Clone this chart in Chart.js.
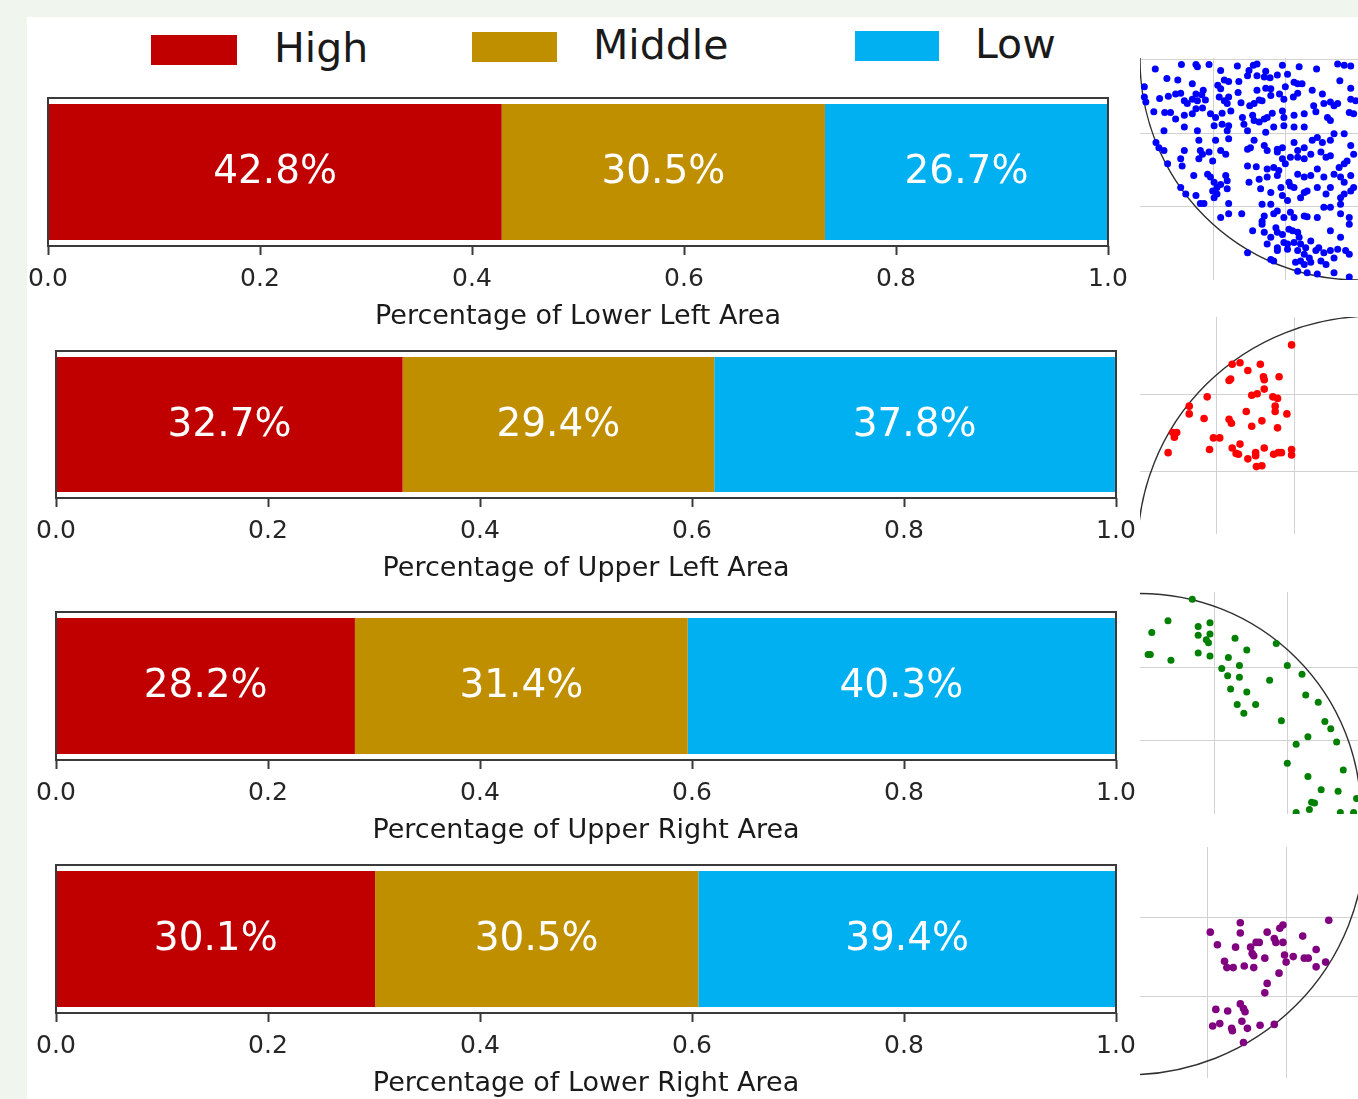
<!DOCTYPE html>
<html>
<head>
<meta charset="utf-8">
<script src="https://cdn.jsdelivr.net/npm/chart.js@4.4.1/dist/chart.umd.min.js"></script>
<style>
  html, body { margin: 0; padding: 0; }
  body { width: 1358px; height: 1099px; background: #f0f6ee; position: relative; overflow: hidden; font-family: "DejaVu Sans", sans-serif; }
  #panel { position: absolute; left: 27px; top: 17px; width: 1331px; height: 1082px; background: #ffffff; }
  canvas { position: absolute; }
  .key { position: absolute; height: 30px; }
  .keytext { position: absolute; font-size: 41px; line-height: 41px; color: #1a1a1a; white-space: nowrap; }
</style>
</head>
<body>
<div id="panel"></div>
<div id="legend"></div>
<canvas id="bar0" width="1160" height="243" style="left:0;top:90px"></canvas>
<canvas id="bar1" width="1160" height="242" style="left:0;top:343px"></canvas>
<canvas id="bar2" width="1160" height="243" style="left:0;top:604px"></canvas>
<canvas id="bar3" width="1160" height="243" style="left:0;top:857px"></canvas>
<canvas id="disc0" width="218" height="222" style="left:1140px;top:58px"></canvas>
<canvas id="disc1" width="218" height="217" style="left:1140px;top:317px"></canvas>
<canvas id="disc2" width="218" height="222" style="left:1140px;top:592px"></canvas>
<canvas id="disc3" width="218" height="231" style="left:1140px;top:847px"></canvas>
<script>
// ---- shares per area (fractions of 1) ----
const areaTitles = ['Percentage of Lower Left Area', 'Percentage of Upper Left Area',
                    'Percentage of Upper Right Area', 'Percentage of Lower Right Area'];
const levelNames = ['High', 'Middle', 'Low'];
const levelColors = ['#c00000', '#bf8f00', '#00b0f0'];
const highShare = [0.428, 0.327, 0.282, 0.301];
const middleShare = [0.305, 0.294, 0.314, 0.305];
const lowShare = [0.267, 0.378, 0.403, 0.394];
const shareTicks = [0, 0.2, 0.4, 0.6, 0.8, 1.0];

// ---- sample locations in each quarter of the disc ----
const discRadius = 3;
const lowerLeftPts = [
[-2.79,-0.13],[-2.43,-0.07],[-2.23,-0.07],[-2.21,-0.10],[-2.05,-0.07],[-1.89,-0.15],[-1.66,-0.09],[-1.50,-0.15],
[-1.44,-0.08],[-1.39,-0.06],[-1.27,-0.16],[-1.04,-0.08],[-0.81,-0.10],[-0.57,-0.13],[-0.28,-0.06],[-0.19,-0.08],[-0.10,-0.09],
[-2.63,-0.26],[-2.48,-0.28],[-2.28,-0.33],[-1.93,-0.35],[-1.84,-0.28],[-1.78,-0.30],[-1.64,-0.30],[-1.52,-0.22],
[-1.39,-0.22],[-1.29,-0.24],[-1.21,-0.25],[-1.11,-0.21],[-0.97,-0.20],[-0.88,-0.31],[-0.83,-0.33],[-0.77,-0.33],
[-1.00,-0.37],[-1.20,-0.40],[-1.27,-0.39],[-1.39,-0.42],[-1.65,-0.45],[-1.89,-0.40],[-2.13,-0.42],[-2.15,-0.48],
[-2.23,-0.47],[-0.63,-0.42],[-0.49,-0.47],[-0.25,-0.29],[-0.10,-0.39],[-2.94,-0.37],
[-2.73,-0.53],[-2.61,-0.50],[-2.51,-0.47],[-2.44,-0.46],[-2.39,-0.56],[-2.35,-0.60],[-2.28,-0.54],[-2.21,-0.56],
[-2.10,-0.55],[-1.91,-0.51],[-1.84,-0.56],[-1.80,-0.60],[-1.78,-0.51],[-1.61,-0.59],[-1.49,-0.63],[-1.43,-0.60],
[-1.36,-0.55],[-1.32,-0.56],[-1.20,-0.49],[-1.08,-0.47],[-1.02,-0.54],[-0.89,-0.51],[-0.83,-0.46],[-0.61,-0.63],
[-0.47,-0.60],[-0.38,-0.58],[-0.33,-0.63],[-0.28,-0.60],[-0.10,-0.54],[-0.03,-0.56],[-2.92,-0.58],[-2.94,-0.51],
[-2.81,-0.71],[-2.66,-0.72],[-2.58,-0.72],[-2.51,-0.81],[-2.39,-0.76],[-2.28,-0.74],[-2.23,-0.67],[-2.14,-0.66],
[-2.03,-0.74],[-1.96,-0.79],[-1.87,-0.73],[-1.75,-0.70],[-1.59,-0.79],[-1.45,-0.76],[-1.43,-0.83],[-1.36,-0.85],
[-1.29,-0.81],[-1.25,-0.79],[-1.18,-0.73],[-1.04,-0.70],[-1.02,-0.79],[-0.88,-0.76],[-0.74,-0.74],[-0.58,-0.71],
[-0.42,-0.79],[-0.38,-0.83],[-0.12,-0.72],[-0.06,-0.74],[-0.74,-0.92],[-0.88,-0.92],[-1.02,-0.90],[-1.16,-0.92],
[-1.27,-0.99],[-1.52,-0.97],[-1.57,-0.88],[-1.78,-0.90],[-1.87,-0.88],[-1.98,-0.90],[-2.21,-0.97],[-2.39,-0.92],
[-2.67,-0.97],[-1.80,-0.97],
[-2.78,-1.13],[-2.74,-1.20],[-2.67,-1.24],[-2.39,-1.24],[-2.17,-1.24],[-2.19,-1.10],[-1.96,-1.10],[-1.78,-1.08],
[-1.89,-1.24],[-1.52,-1.22],[-1.48,-1.20],[-1.43,-1.10],[-1.29,-1.17],[-1.25,-1.24],[-1.11,-1.22],[-1.04,-1.20],
[-0.88,-1.13],[-0.83,-1.24],[-0.74,-1.20],[-0.63,-1.10],[-0.56,-1.06],[-0.49,-1.13],[-0.38,-1.10],[-0.33,-1.01],
[-0.19,-1.01],[-0.10,-1.17],[-0.93,-1.33],[-1.04,-1.35],[-1.11,-1.26],
[-2.62,-1.42],[-2.44,-1.35],[-2.42,-1.45],[-2.19,-1.35],[-2.14,-1.29],[-2.05,-1.26],[-2.00,-1.38],[-1.82,-1.29],
[-1.52,-1.45],[-1.40,-1.46],[-1.25,-1.49],[-1.16,-1.47],[-1.09,-1.51],[-1.00,-1.42],[-0.83,-1.33],[-0.74,-1.35],
[-0.65,-1.29],[-0.51,-1.26],[-0.44,-1.33],[-0.38,-1.31],[-0.26,-1.47],[-0.19,-1.42],[-0.15,-1.38],[-0.06,-1.29],
[-2.26,-1.58],[-2.07,-1.56],[-2.03,-1.60],[-1.98,-1.67],[-1.94,-1.74],[-1.89,-1.70],[-1.82,-1.58],[-1.80,-1.65],
[-1.50,-1.67],[-1.36,-1.63],[-1.25,-1.60],[-1.11,-1.58],[-0.95,-1.67],[-0.83,-1.56],[-0.74,-1.60],[-0.65,-1.58],
[-0.56,-1.49],[-0.47,-1.60],[-0.33,-1.56],[-0.24,-1.60],[-0.19,-1.67],[-0.10,-1.58],
[-2.44,-1.74],[-2.37,-1.83],[-2.23,-1.85],[-2.17,-1.96],[-2.12,-1.96],[-2.00,-1.79],[-1.94,-1.83],[-1.98,-1.88],
[-1.80,-1.76],[-1.78,-1.96],[-1.34,-1.76],[-1.20,-1.81],[-1.06,-1.74],[-1.04,-1.85],[-0.93,-1.72],[-0.88,-1.74],
[-0.79,-1.88],[-0.74,-1.81],[-0.70,-1.79],[-0.56,-1.74],[-0.44,-1.83],[-0.38,-1.74],[-0.24,-1.88],[-0.19,-1.83],
[-0.10,-1.79],[-0.06,-1.74],
[-1.89,-2.15],[-1.78,-2.10],[-1.60,-2.10],[-1.32,-1.97],[-1.20,-1.97],[-1.16,-2.10],[-1.11,-2.06],[-0.97,-1.92],
[-0.93,-2.08],[-1.29,-2.13],[-1.32,-2.20],[-1.02,-2.15],[-0.88,-2.15],[-0.74,-2.13],[-0.70,-2.14],[-0.56,-2.15],
[-0.47,-2.01],[-0.38,-2.01],[-0.24,-1.97],[-0.24,-2.10],[-0.12,-2.15],[-0.12,-2.24],
[-1.45,-2.33],[-1.32,-2.24],[-1.29,-2.35],[-1.20,-2.42],[-1.13,-2.29],[-1.11,-2.35],[-1.04,-2.38],[-1.02,-2.49],
[-0.95,-2.31],[-0.90,-2.33],[-0.83,-2.35],[-0.81,-2.42],[-0.88,-2.49],[-0.97,-2.51],[-1.25,-2.51],[-1.11,-2.56],
[-0.79,-2.51],[-0.72,-2.56],[-0.65,-2.47],[-0.38,-2.33],[-0.24,-2.42],
[-1.52,-2.63],[-1.20,-2.72],[-1.16,-2.74],[-1.11,-2.60],[-0.97,-2.58],[-0.83,-2.60],[-0.74,-2.65],[-0.67,-2.70],
[-0.58,-2.60],[-0.54,-2.56],[-0.47,-2.63],[-0.38,-2.60],[-0.28,-2.58],[-0.33,-2.70],[-0.17,-2.60],[-0.12,-2.65],
[-0.65,-2.76],[-0.74,-2.79],[-0.79,-2.74],[-0.86,-2.76],[-0.51,-2.74],[-0.44,-2.79],
[-0.83,-2.88],[-0.70,-2.90],[-0.56,-2.92],[-0.33,-2.90],[-0.12,-2.96]
];
const upperLeftPts = [
[-1.03,2.63],[-1.79,2.38],[-1.69,2.40],[-1.43,2.38],[-1.59,2.30],[-1.39,2.22],[-1.38,2.18],[-1.19,2.22],
[-1.83,2.17],[-1.81,2.19],[-1.38,2.06],[-1.47,2.00],[-1.54,1.98],[-2.11,1.96],[-1.27,1.96],[-1.21,1.94],
[-1.24,1.84],[-1.24,1.77],[-1.09,1.74],[-2.34,1.84],[-2.34,1.74],[-2.15,1.68],[-1.83,1.67],[-1.80,1.62],
[-1.61,1.77],[-1.41,1.65],[-1.54,1.58],[-1.21,1.56],[-2.55,1.50],[-2.50,1.50],[-2.53,1.44],[-2.03,1.43],
[-1.95,1.43],[-2.61,1.24],[-2.08,1.28],[-1.79,1.30],[-1.69,1.35],[-1.74,1.23],[-1.71,1.22],[-1.59,1.16],
[-1.49,1.24],[-1.49,1.20],[-1.38,1.30],[-1.26,1.22],[-1.20,1.24],[-1.16,1.24],[-1.03,1.28],[-1.03,1.21],
[-1.48,1.06],[-1.41,1.07]
];
const upperRightPts = [
[0.71,2.92],[0.38,2.63],[0.16,2.47],[0.11,2.17],[0.14,2.17],[0.42,2.09],[0.79,2.55],[0.79,2.43],
[0.95,2.60],[0.95,2.45],[0.90,2.37],[0.93,2.33],[0.79,2.19],[0.95,2.15],[1.29,2.39],[1.45,2.23],
[1.20,2.13],[1.11,1.98],[1.35,2.02],[1.19,1.88],[1.35,1.86],[1.23,1.70],[1.45,1.66],[1.32,1.49],
[1.57,1.49],[1.41,1.37],[1.76,1.82],[1.85,2.32],[2.00,2.02],[2.20,1.90],[2.25,1.62],[2.42,1.52],
[1.92,1.27],[2.51,1.26],[2.59,1.16],[2.28,1.05],[2.12,0.95],[2.67,0.98],[2.00,0.69],[2.28,0.51],
[2.76,0.60],[2.46,0.33],[2.69,0.31],[2.33,0.16],[2.37,0.15],[2.30,0.06],[2.12,0.02],[2.72,0.02],
[2.94,0.21],[2.90,0.02]
];
const lowerRightPts = [
[1.42,-1.07],[1.42,-1.20],[1.04,-1.19],[1.13,-1.35],[1.36,-1.38],[1.55,-1.38],[1.62,-1.32],[1.66,-1.32],
[1.76,-1.19],[1.85,-1.27],[1.87,-1.32],[1.92,-1.14],[1.96,-1.10],[1.96,-1.32],[2.21,-1.24],[2.38,-1.41],
[2.54,-1.04],[1.57,-1.46],[1.59,-1.49],[1.73,-1.52],[1.98,-1.48],[2.00,-1.57],[2.09,-1.50],[2.23,-1.52],
[2.28,-1.52],[2.38,-1.63],[2.50,-1.57],[1.22,-1.56],[1.25,-1.64],[1.33,-1.64],[1.47,-1.62],[1.59,-1.64],
[1.91,-1.71],[1.76,-1.84],[1.73,-1.96],[1.11,-2.17],[1.26,-2.19],[1.42,-2.10],[1.46,-2.16],[1.48,-2.20],
[1.07,-2.38],[1.16,-2.35],[1.31,-2.41],[1.32,-2.44],[1.44,-2.32],[1.51,-2.41],[1.67,-2.37],[1.85,-2.36],
[1.46,-2.59]
];

Chart.defaults.font.family = '"DejaVu Sans", sans-serif';
Chart.defaults.color = '#262626';

// ---- legend row ----
const legendSpots = [
  { box: [151, 35, 86], text: [274, 28] },
  { box: [472, 32, 85], text: [593, 25] },
  { box: [855, 31, 84], text: [975, 24] }
];
const legendEl = document.getElementById('legend');
levelNames.forEach((name, i) => {
  const s = legendSpots[i];
  const b = document.createElement('div');
  b.className = 'key';
  b.style.left = s.box[0] + 'px'; b.style.top = s.box[1] + 'px';
  b.style.width = s.box[2] + 'px'; b.style.background = levelColors[i];
  legendEl.appendChild(b);
  const t = document.createElement('div');
  t.className = 'keytext';
  t.style.left = s.text[0] + 'px'; t.style.top = s.text[1] + 'px';
  t.textContent = name;
  legendEl.appendChild(t);
});

// frame around the plotting area
const framePlugin = {
  id: 'frame',
  afterDatasetsDraw(chart) {
    const a = chart.chartArea, ctx = chart.ctx;
    ctx.save();
    ctx.strokeStyle = '#3a3a3a';
    ctx.lineWidth = 2;
    ctx.strokeRect(a.left, a.top, a.right - a.left, a.bottom - a.top);
    ctx.restore();
  }
};

// percentage text centred in each stacked segment
const segmentLabels = {
  id: 'segmentLabels',
  afterDatasetsDraw(chart) {
    const ctx = chart.ctx;
    ctx.save();
    ctx.fillStyle = '#ffffff';
    ctx.font = '39px "DejaVu Sans"';
    ctx.textAlign = 'center';
    ctx.textBaseline = 'middle';
    chart.data.datasets.forEach((ds, di) => {
      chart.getDatasetMeta(di).data.forEach((el, j) => {
        const v = ds.data[j];
        const txt = (Math.round(v * 1000) / 10).toFixed(1) + '%';
        ctx.fillText(txt, (el.x + el.base) / 2, el.y + 1);
      });
    });
    ctx.restore();
  }
};

const frames = [
  { left: 48, right: 1108 },
  { left: 56, right: 1116 },
  { left: 56, right: 1116 },
  { left: 56, right: 1116 }
];
const shareSets = [highShare, middleShare, lowShare];

areaTitles.forEach((title, k) => {
  const cv = document.getElementById('bar' + k);
  new Chart(cv, {
    type: 'bar',
    data: {
      labels: [''],
      datasets: levelNames.map((name, i) => ({
        label: name,
        data: [shareSets[i][k]],
        backgroundColor: levelColors[i],
        borderWidth: 0,
        barPercentage: 0.92,
        categoryPercentage: 1
      }))
    },
    options: {
      indexAxis: 'y',
      responsive: false,
      animation: false,
      events: [],
      layout: { autoPadding: false, padding: { top: 8, bottom: 0, left: frames[k].left, right: cv.width - frames[k].right } },
      plugins: { legend: { display: false }, tooltip: { enabled: false } },
      scales: {
        y: { stacked: true, display: false },
        x: {
          stacked: true,
          min: 0, max: 1,
          afterBuildTicks: s => { s.ticks = shareTicks.map(v => ({ value: v })); },
          afterFit: s => { s.height = 87; },
          border: { display: false },
          grid: { drawOnChartArea: false, drawTicks: true, tickLength: 9, tickWidth: 2, tickColor: '#3a3a3a' },
          ticks: {
            padding: 9,
            font: { size: 25 },
            color: '#262626',
            maxRotation: 0,
            callback: v => Number(v).toFixed(1)
          },
          title: { display: true, text: title, font: { size: 27 }, color: '#1a1a1a', padding: { top: 0, bottom: 0 } }
        }
      }
    },
    plugins: [framePlugin, segmentLabels]
  });
});

// ---- quarter-disc location maps ----
const discViews = [
  { id: 'disc0', pts: lowerLeftPts, color: '#0000ff', r: 3.5, x: [-3.0, 0], y: [-3.0, 0.02], gx: [-2, -1], gy: [-2, -1, 0] },
  { id: 'disc1', pts: upperLeftPts, color: '#ff0000', r: 3.8, x: [-2.97, -0.18], y: [0.19, 2.99], gx: [-2, -1], gy: [1, 2] },
  { id: 'disc2', pts: upperRightPts, color: '#008000', r: 3.5, x: [0, 2.96], y: [0, 3.02], gx: [1, 2], gy: [1, 2] },
  { id: 'disc3', pts: lowerRightPts, color: '#800080', r: 3.8, x: [0.15, 2.91], y: [-3.04, -0.11], gx: [1, 2], gy: [-2, -1] }
];

// grid lines and the disc boundary, placed with the chart's own scales
const discBackdrop = {
  id: 'discBackdrop',
  beforeDatasetsDraw(chart, args, opts) {
    const { ctx, chartArea: a } = chart;
    const xs = chart.scales.x, ys = chart.scales.y;
    ctx.save();
    ctx.beginPath();
    ctx.rect(a.left, a.top, a.right - a.left, a.bottom - a.top);
    ctx.clip();
    ctx.strokeStyle = '#d2d2d2';
    ctx.lineWidth = 1;
    opts.gx.forEach(v => {
      const px = Math.round(xs.getPixelForValue(v)) + 0.5;
      ctx.beginPath(); ctx.moveTo(px, a.top); ctx.lineTo(px, a.bottom); ctx.stroke();
    });
    opts.gy.forEach(v => {
      const py = Math.round(ys.getPixelForValue(v)) + 0.5;
      ctx.beginPath(); ctx.moveTo(a.left, py); ctx.lineTo(a.right, py); ctx.stroke();
    });
    const cx = xs.getPixelForValue(0), cy = ys.getPixelForValue(0);
    const rx = Math.abs(xs.getPixelForValue(discRadius) - cx);
    const ry = Math.abs(ys.getPixelForValue(discRadius) - cy);
    ctx.beginPath();
    ctx.ellipse(cx, cy, rx, ry, 0, 0, Math.PI * 2);
    ctx.strokeStyle = '#303030';
    ctx.lineWidth = 1.4;
    ctx.stroke();
    ctx.restore();
  }
};

discViews.forEach(v => {
  new Chart(document.getElementById(v.id), {
    type: 'scatter',
    data: {
      datasets: [{
        data: v.pts.map(p => ({ x: p[0], y: p[1] })),
        backgroundColor: v.color,
        borderWidth: 0,
        pointRadius: v.r
      }]
    },
    options: {
      responsive: false,
      animation: false,
      events: [],
      layout: { autoPadding: false, padding: 0 },
      plugins: {
        legend: { display: false },
        tooltip: { enabled: false },
        discBackdrop: { gx: v.gx, gy: v.gy }
      },
      scales: {
        x: { type: 'linear', min: v.x[0], max: v.x[1], display: false },
        y: { type: 'linear', min: v.y[0], max: v.y[1], display: false }
      }
    },
    plugins: [discBackdrop]
  });
});
</script>
</body>
</html>
